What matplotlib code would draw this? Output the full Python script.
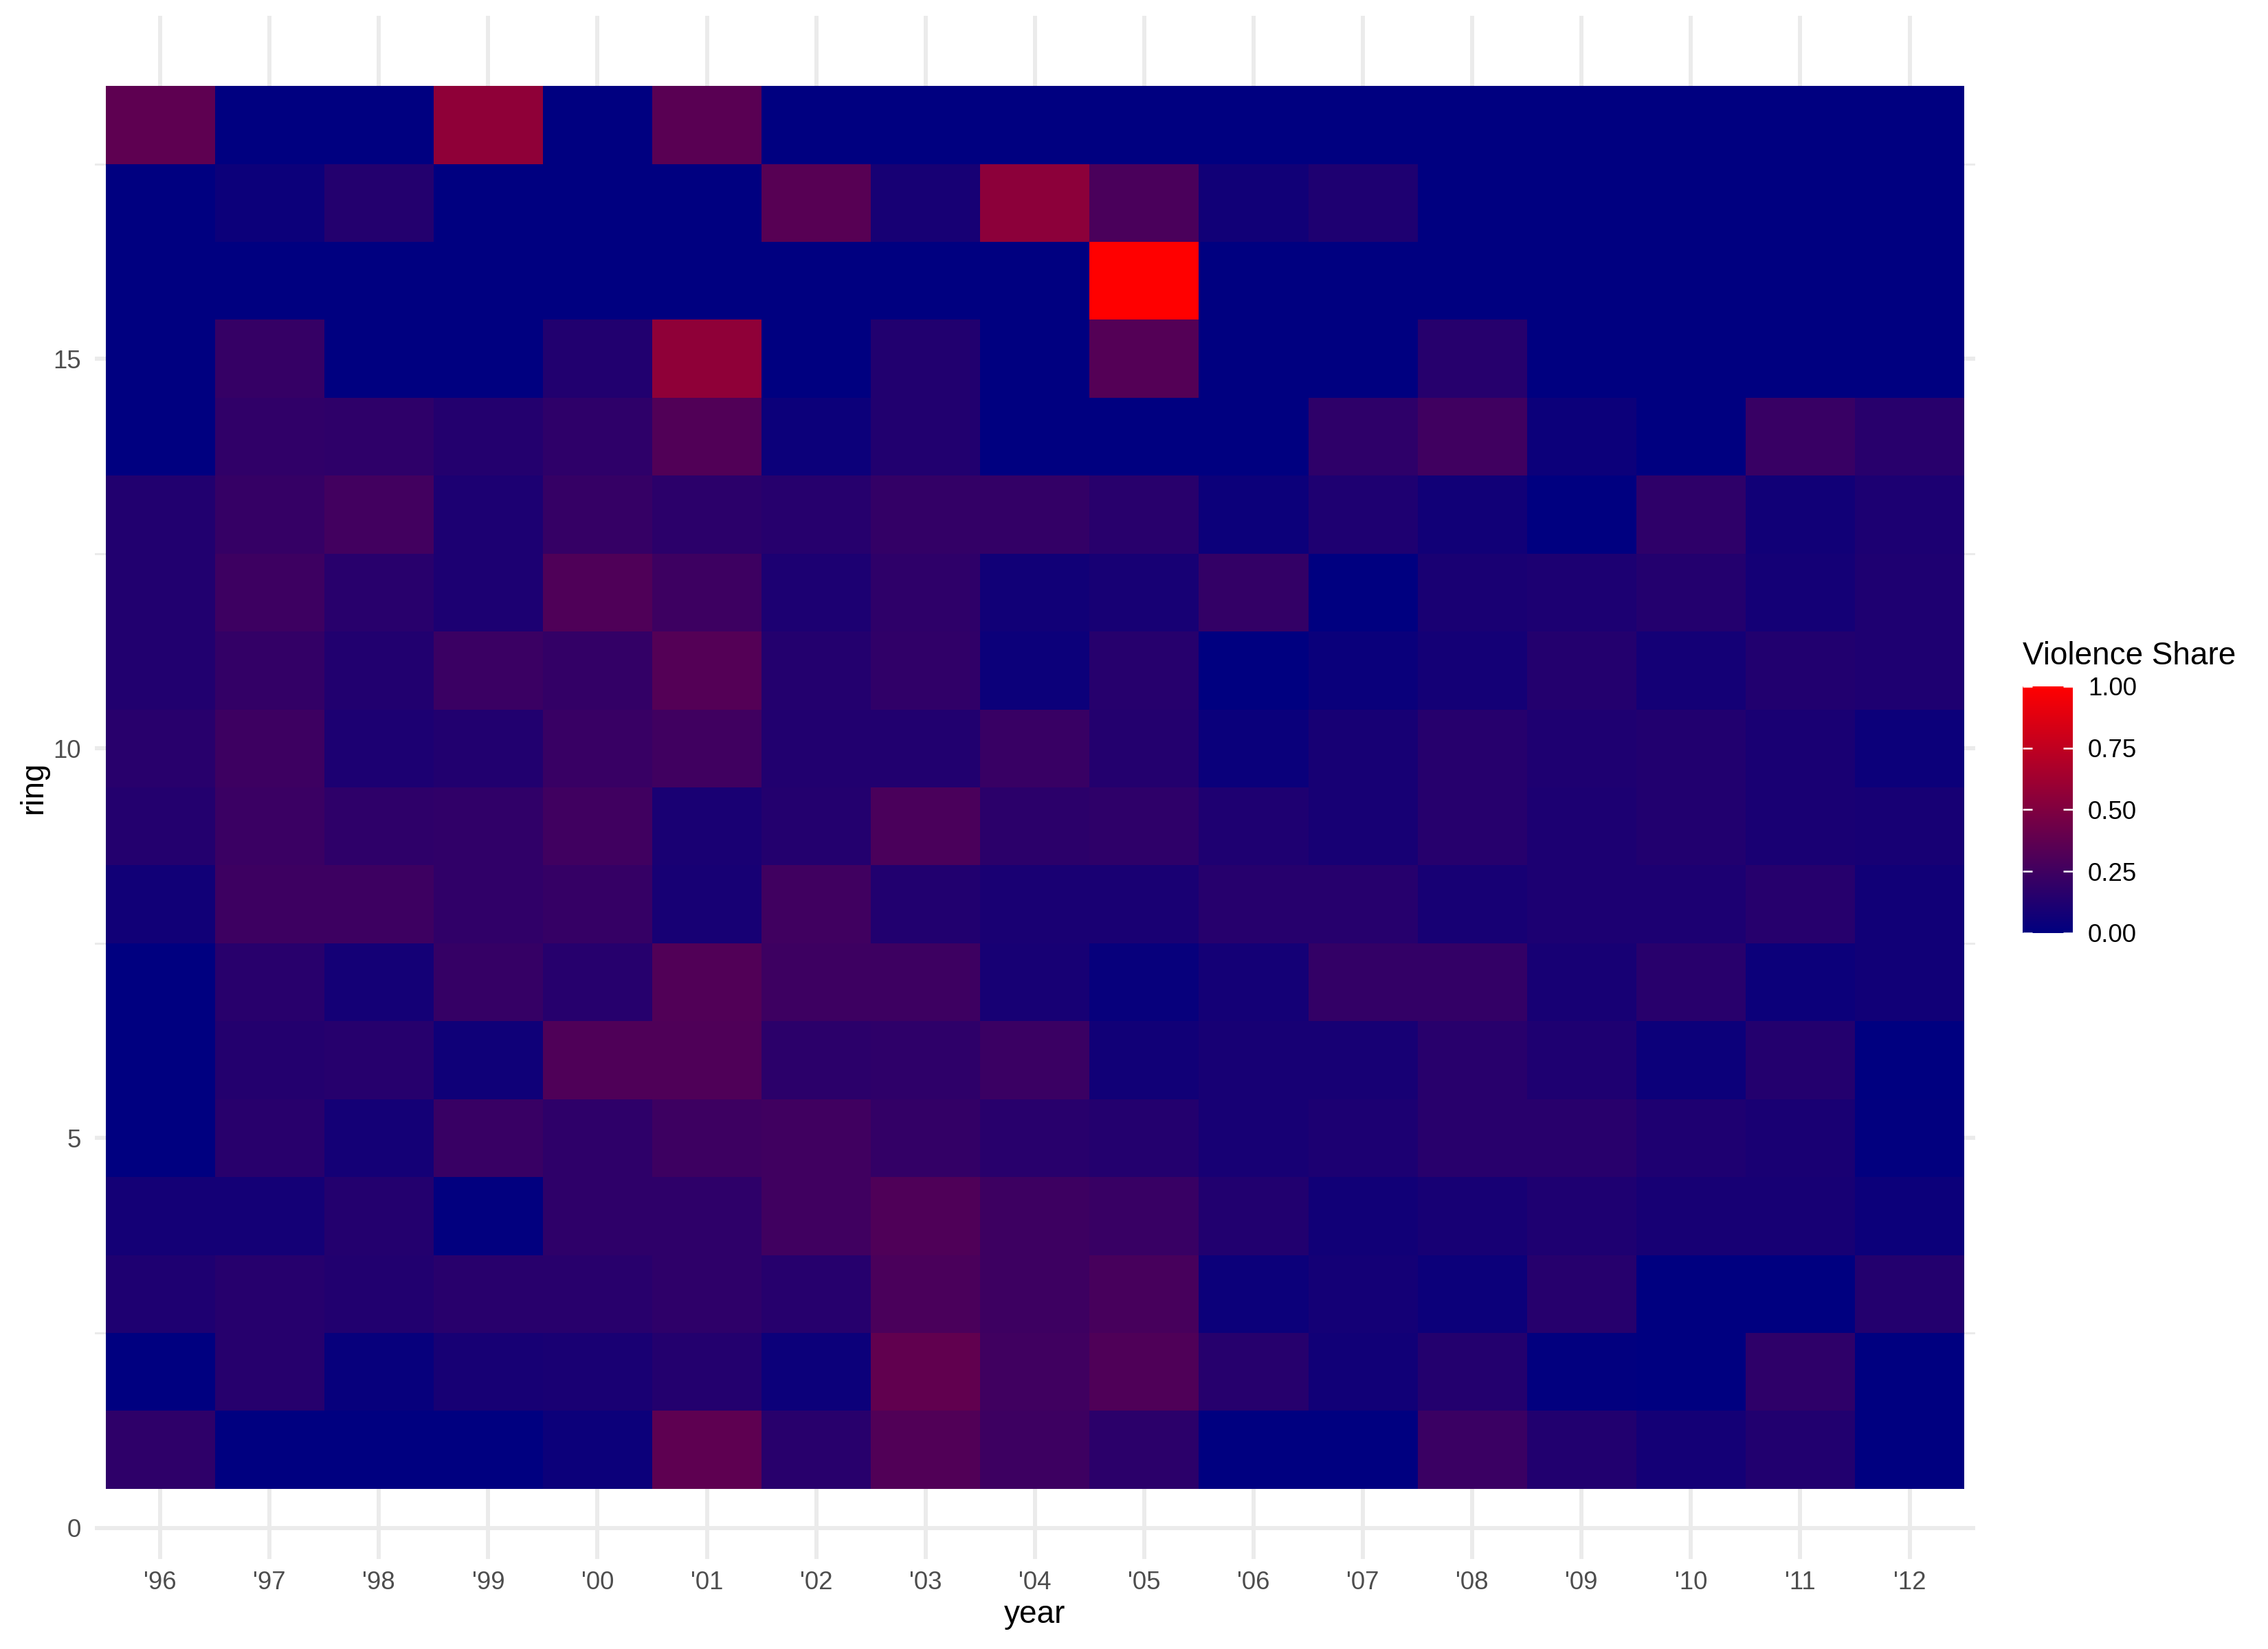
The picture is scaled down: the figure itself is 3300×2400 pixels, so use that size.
import numpy as np
import matplotlib
matplotlib.use("Agg")
import matplotlib.pyplot as plt
from matplotlib.colors import LinearSegmentedColormap

plt.rcParams['font.family'] = ['Liberation Sans', 'DejaVu Sans']

years = ["'96", "'97", "'98", "'99", "'00", "'01", "'02", "'03", "'04",
         "'05", "'06", "'07", "'08", "'09", "'10", "'11", "'12"]
rings = list(range(1, 19))

# Violence share, one row per ring (1..18), columns follow `years`
share = [
    [0.18, 0.00, 0.00, 0.00, 0.05, 0.37, 0.16, 0.32, 0.24, 0.17, 0.00, 0.00, 0.23, 0.13, 0.08, 0.13, 0.00],
    [0.00, 0.15, 0.03, 0.09, 0.10, 0.14, 0.05, 0.38, 0.25, 0.31, 0.15, 0.07, 0.14, 0.01, 0.00, 0.18, 0.00],
    [0.12, 0.15, 0.13, 0.16, 0.16, 0.18, 0.15, 0.29, 0.24, 0.28, 0.05, 0.08, 0.05, 0.15, 0.00, 0.00, 0.14],
    [0.08, 0.08, 0.14, 0.01, 0.18, 0.18, 0.25, 0.31, 0.24, 0.22, 0.13, 0.07, 0.09, 0.12, 0.09, 0.09, 0.05],
    [0.00, 0.16, 0.08, 0.22, 0.18, 0.24, 0.25, 0.20, 0.16, 0.14, 0.09, 0.11, 0.16, 0.16, 0.12, 0.10, 0.01],
    [0.00, 0.14, 0.15, 0.06, 0.31, 0.31, 0.17, 0.18, 0.23, 0.07, 0.09, 0.09, 0.16, 0.12, 0.05, 0.14, 0.00],
    [0.00, 0.16, 0.08, 0.21, 0.15, 0.32, 0.24, 0.24, 0.09, 0.03, 0.08, 0.20, 0.20, 0.09, 0.16, 0.05, 0.07],
    [0.07, 0.24, 0.24, 0.19, 0.21, 0.09, 0.25, 0.13, 0.10, 0.10, 0.15, 0.15, 0.09, 0.11, 0.11, 0.15, 0.07],
    [0.14, 0.23, 0.18, 0.19, 0.25, 0.10, 0.14, 0.29, 0.17, 0.18, 0.12, 0.09, 0.15, 0.11, 0.13, 0.10, 0.09],
    [0.16, 0.24, 0.11, 0.13, 0.22, 0.25, 0.13, 0.13, 0.22, 0.14, 0.04, 0.09, 0.15, 0.12, 0.13, 0.10, 0.05],
    [0.13, 0.20, 0.13, 0.23, 0.20, 0.33, 0.14, 0.19, 0.05, 0.15, 0.00, 0.04, 0.08, 0.14, 0.08, 0.13, 0.12],
    [0.13, 0.24, 0.16, 0.11, 0.31, 0.24, 0.11, 0.18, 0.07, 0.09, 0.20, 0.00, 0.10, 0.11, 0.14, 0.08, 0.12],
    [0.13, 0.21, 0.26, 0.11, 0.21, 0.17, 0.15, 0.20, 0.20, 0.16, 0.05, 0.12, 0.07, 0.00, 0.18, 0.07, 0.11],
    [0.00, 0.19, 0.18, 0.14, 0.18, 0.32, 0.05, 0.13, 0.00, 0.00, 0.00, 0.18, 0.25, 0.05, 0.00, 0.22, 0.16],
    [0.00, 0.21, 0.00, 0.00, 0.13, 0.56, 0.00, 0.13, 0.00, 0.33, 0.00, 0.00, 0.15, 0.00, 0.00, 0.00, 0.00],
    [0.00, 0.00, 0.00, 0.00, 0.00, 0.00, 0.00, 0.00, 0.00, 1.00, 0.00, 0.00, 0.00, 0.00, 0.00, 0.00, 0.00],
    [0.00, 0.05, 0.14, 0.00, 0.00, 0.00, 0.34, 0.09, 0.55, 0.29, 0.07, 0.12, 0.00, 0.00, 0.00, 0.00, 0.00],
    [0.37, 0.00, 0.00, 0.56, 0.00, 0.35, 0.00, 0.00, 0.00, 0.00, 0.00, 0.00, 0.00, 0.00, 0.00, 0.00, 0.00],
]

legend_ticks = [0.0, 0.25, 0.5, 0.75, 1.0]
y_major = [0, 5, 10, 15]
y_minor = [2.5, 7.5, 12.5, 17.5]

cmap = LinearSegmentedColormap.from_list("navy_red", ["#000080", "#FF0000"], N=512)

fig = plt.figure(figsize=(11, 8), dpi=300)
ax = fig.add_axes([0.0417, 0.0546, 0.8292, 0.9358])

xpos = np.arange(1, len(years) + 1)
xedges = np.arange(len(years) + 1) + 0.5
yedges = np.arange(len(rings) + 1) + 0.5
mesh = ax.pcolormesh(xedges, yedges, np.array(share), cmap=cmap, vmin=0, vmax=1,
                     shading="flat", zorder=2)

ax.set_xlim(0.4, len(years) + 0.6)
ax.set_ylim(0.5 - 0.9, len(rings) + 0.5 + 0.9)

grid_col = "#EBEBEB"
ax.set_xticks(xpos)
ax.set_xticklabels(years)
ax.set_yticks(y_major)
ax.set_yticks(y_minor, minor=True)
ax.grid(which="major", color=grid_col, linewidth=1.42, zorder=0)
ax.grid(which="minor", axis="y", color=grid_col, linewidth=0.71, zorder=0)
ax.set_axisbelow(True)
for s in ax.spines.values():
    s.set_visible(False)
ax.tick_params(which="both", length=0)
ax.tick_params(axis="x", labelsize=8.8, labelcolor="#4D4D4D", pad=4.2)
ax.tick_params(axis="y", labelsize=8.8, labelcolor="#4D4D4D", pad=4.8)
ax.set_xlabel("year", fontsize=11, labelpad=1.5)
ax.set_ylabel("ring", fontsize=11, labelpad=1.5)

cax = fig.add_axes([0.8918, 0.4342, 0.0221, 0.1496])
cb = fig.colorbar(mesh, cax=cax, ticks=legend_ticks)
cb.outline.set_visible(False)
cb.ax.set_yticklabels([f"{t:.2f}" for t in legend_ticks])
cax.tick_params(axis="y", direction="in", length=3.4, width=0.6, color="white",
                left=True, right=True, labelleft=False, labelright=True,
                labelsize=8.8, labelcolor="black", pad=5.3)
fig.text(0.8918, 0.602, "Violence Share", fontsize=11, ha="left", va="center")

fig.savefig("out.png", dpi=300)
